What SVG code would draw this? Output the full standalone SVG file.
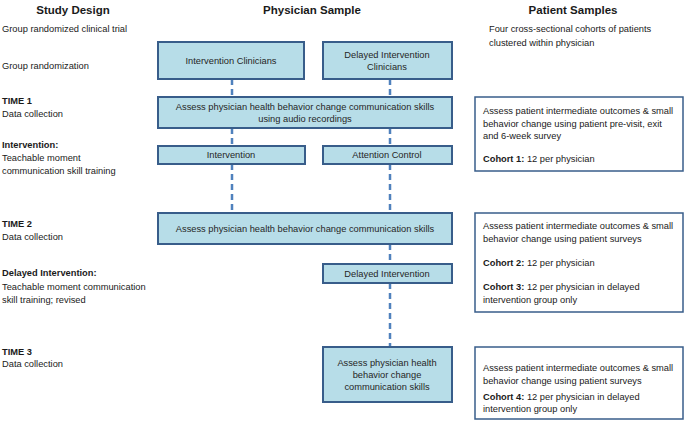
<svg xmlns="http://www.w3.org/2000/svg" width="685" height="422" viewBox="0 0 685 422">
<style>
text{font-family:"Liberation Sans",Arial,sans-serif;font-size:9.3px;fill:#1a1a1a}
.h{font-weight:bold;font-size:11.5px;text-anchor:middle}
.b{font-weight:bold}
.c{text-anchor:middle;fill:#262626}
.pb{fill:#b7dde8;stroke:#385d8a;stroke-width:2}
.sb{fill:#fff;stroke:#385d8a;stroke-width:1.5}
.dl{stroke:#4f81bd;stroke-width:2.5;stroke-dasharray:6,4;fill:none}
</style>
<rect width="685" height="422" fill="#fff"/>
<g id="headers">
<text class="h" x="73" y="14">Study Design</text>
<text class="h" x="312" y="14">Physician Sample</text>
<text class="h" x="573" y="14">Patient Samples</text>
</g>
<g id="study-design">
<text x="2" y="32">Group randomized clinical trial</text>
<text x="2" y="69">Group randomization</text>
<text class="b" x="2" y="104">TIME 1</text>
<text x="2" y="117">Data collection</text>
<text class="b" x="2" y="148">Intervention:</text>
<text x="2" y="161">Teachable moment</text>
<text x="2" y="174">communication skill training</text>
<text class="b" x="2" y="227">TIME 2</text>
<text x="2" y="240">Data collection</text>
<text class="b" x="2" y="276">Delayed Intervention:</text>
<text x="2" y="290">Teachable moment communication</text>
<text x="2" y="303">skill training; revised</text>
<text class="b" x="2" y="355">TIME 3</text>
<text x="2" y="367">Data collection</text>
</g>
<g id="connectors">
<path class="dl" d="M232 79V97M232 128V146M232 164V213"/>
<path class="dl" d="M390 79V97M390 128V146M390 164V213M390 244V264M390 283V347"/>
</g>
<g id="intervention-clinicians">
<rect class="pb" x="158" y="42" width="146" height="37"/>
<text class="c" x="231" y="64">Intervention Clinicians</text>
</g>
<g id="delayed-clinicians">
<rect class="pb" x="323" y="42" width="129" height="37"/>
<text class="c" x="387" y="58">Delayed Intervention</text>
<text class="c" x="387" y="70">Clinicians</text>
</g>
<g id="assess-1">
<rect class="pb" x="158" y="97" width="294" height="31"/>
<text class="c" x="305" y="110">Assess physician health behavior change communication skills</text>
<text class="c" x="305" y="122">using audio recordings</text>
</g>
<g id="intervention">
<rect class="pb" x="158" y="146" width="147" height="18"/>
<text class="c" x="231" y="158">Intervention</text>
</g>
<g id="attention-control">
<rect class="pb" x="323" y="146" width="129" height="18"/>
<text class="c" x="387" y="158">Attention Control</text>
</g>
<g id="assess-2">
<rect class="pb" x="158" y="213" width="294" height="31"/>
<text class="c" x="305" y="232">Assess physician health behavior change communication skills</text>
</g>
<g id="delayed-intervention">
<rect class="pb" x="323" y="264" width="129" height="19"/>
<text class="c" x="387" y="277">Delayed Intervention</text>
</g>
<g id="assess-3">
<rect class="pb" x="323" y="347" width="129" height="55"/>
<text class="c" x="387" y="366">Assess physician health</text>
<text class="c" x="387" y="378">behavior change</text>
<text class="c" x="387" y="390">communication skills</text>
</g>
<g id="patient-header">
<text x="489" y="32">Four cross-sectional cohorts of patients</text>
<text x="489" y="46">clustered within physician</text>
</g>
<g id="patient-1">
<rect class="sb" x="475" y="97" width="208" height="74"/>
<text x="483" y="114">Assess patient intermediate outcomes &amp; small</text>
<text x="483" y="127">behavior change using patient pre-visit, exit</text>
<text x="483" y="139">and 6-week survey</text>
<text x="483" y="162"><tspan class="b">Cohort 1:</tspan> 12 per physician</text>
</g>
<g id="patient-2">
<rect class="sb" x="475" y="213" width="208" height="99"/>
<text x="483" y="229">Assess patient intermediate outcomes &amp; small</text>
<text x="483" y="242">behavior change using patient surveys</text>
<text x="483" y="266"><tspan class="b">Cohort 2:</tspan> 12 per physician</text>
<text x="483" y="290"><tspan class="b">Cohort 3:</tspan> 12 per physician in delayed</text>
<text x="483" y="303">intervention group only</text>
</g>
<g id="patient-3">
<rect class="sb" x="475" y="347" width="208" height="72"/>
<text x="483" y="371">Assess patient intermediate outcomes &amp; small</text>
<text x="483" y="384">behavior change using patient surveys</text>
<text x="483" y="400"><tspan class="b">Cohort 4:</tspan> 12 per physician in delayed</text>
<text x="483" y="412">intervention group only</text>
</g>
</svg>
